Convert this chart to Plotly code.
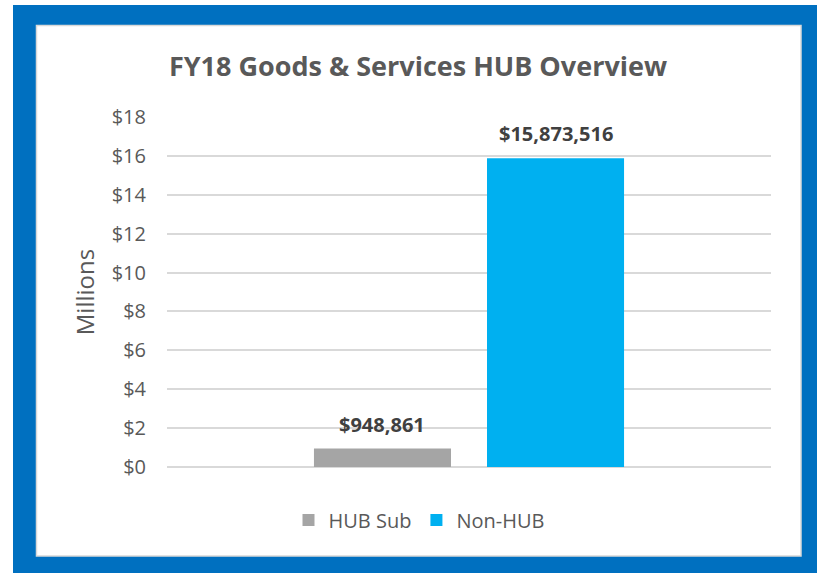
import plotly.graph_objects as go

categories = ["FY18"]
series_names = ["HUB Sub", "Non-HUB"]
series_values = [948861, 15873516]
series_colors = ["#A5A5A5", "#00B0F0"]
tick_values = [0, 2, 4, 6, 8, 10, 12, 14, 16, 18]
tick_labels = ["$" + str(v) for v in tick_values]

FONT = "Open Sans, sans-serif"

W, H = 817, 573
L, R, T, B = 167, 46, 117, 106
pw, ph = W - L - R, H - T - B
BARGAP, BARGROUPGAP = 0.427, 0.208

def px_x(x):
    return (x - L) / pw

def px_y(y):
    return (H - B - y) / ph

fig = go.Figure()
n = len(series_names)
slot = pw * (1 - BARGAP) / n
annotations = []
for i, (name, val, col) in enumerate(zip(series_names, series_values, series_colors)):
    fig.add_trace(go.Bar(
        x=categories, y=[val / 1e6], name=name,
        marker=dict(color=col, line=dict(width=0)),
    ))
    annotations.append(dict(
        x=categories[0], y=val / 1e6, xref="x", yref="y",
        text="<b>${:,}</b>".format(val), showarrow=False,
        xanchor="center", yanchor="bottom",
        xshift=(i - (n - 1) / 2) * slot, yshift=9,
        font=dict(family=FONT, size=20, color="#404040"),
    ))

fig.update_layout(
    width=W, height=H,
    margin=dict(l=L, r=R, t=T, b=B, pad=0),
    paper_bgcolor="white", plot_bgcolor="rgba(0,0,0,0)",
    barmode="group", bargap=BARGAP, bargroupgap=BARGROUPGAP,
    title=dict(text="<b>FY18 Goods & Services HUB Overview</b>",
               x=px_x(418), xanchor="center", xref="paper",
               y=(H - 67) / H, yanchor="middle",
               font=dict(family=FONT, size=27, color="#595959")),
    showlegend=True,
    legend=dict(orientation="h", x=px_x(419), xanchor="center",
                y=px_y(520), yanchor="middle",
                font=dict(family=FONT, size=20, color="#595959"),
                bgcolor="rgba(0,0,0,0)", itemwidth=30, tracegroupgap=0),
    font=dict(family=FONT, color="#595959"),
    annotations=annotations,
    shapes=[
        dict(type="rect", xref="paper", yref="paper", layer="below",
             x0=px_x(13), x1=px_x(830), y0=px_y(600), y1=px_y(5),
             fillcolor="#0070C0", line=dict(width=0)),
        dict(type="rect", xref="paper", yref="paper", layer="below",
             x0=px_x(36.5), x1=px_x(801), y0=px_y(556), y1=px_y(25.5),
             fillcolor="white", line=dict(color="#D9D9D9", width=1.5)),
    ],
)

fig.update_xaxes(showticklabels=False, showgrid=False, showline=False, zeroline=False, ticks="")
fig.update_yaxes(
    range=[0, 18], tickmode="array", tickvals=tick_values, ticktext=tick_labels,
    tickfont=dict(family=FONT, size=20, color="#595959"),
    showgrid=True, gridcolor="#D9D9D9", gridwidth=1.5,
    zeroline=True, zerolinecolor="#D9D9D9", zerolinewidth=1.5,
    showline=False, ticks="", ticklabelstandoff=20,
    title=dict(text="Millions", font=dict(family=FONT, size=24, color="#595959"), standoff=10),
)

fig.write_html("out.html", config={"displayModeBar": False},
               post_script="document.body.style.margin='0';document.body.style.padding='0';")
